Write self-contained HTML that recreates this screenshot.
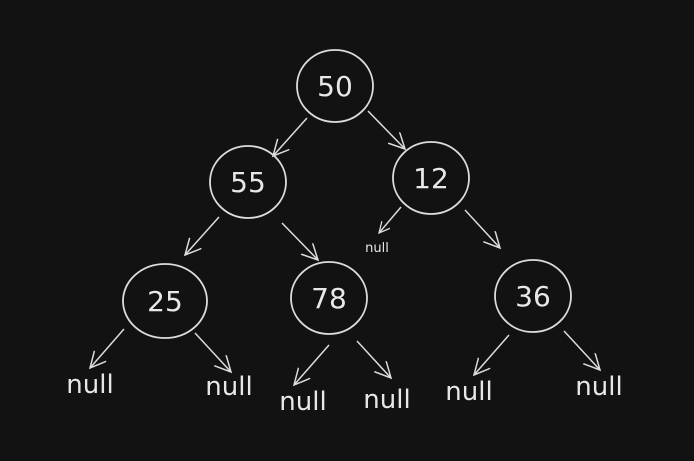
<!DOCTYPE html>
<html><head><meta charset="utf-8"><style>
html,body{margin:0;padding:0;background:#121212;}
svg{display:block}
text{font-family:"DejaVu Sans","Liberation Sans",sans-serif;fill:#e8e8e8;}
</style></head><body>
<svg width="694" height="461" viewBox="0 0 694 461" xmlns="http://www.w3.org/2000/svg">
<rect width="694" height="461" fill="#121212"/>
<defs>
<marker id="a" markerWidth="22" markerHeight="22" refX="16" refY="8" orient="auto" markerUnits="userSpaceOnUse">
<path d="M0,0 L16,8 L0,16" fill="none" stroke="#dcdcdc" stroke-width="1.5"/>
</marker>
<marker id="s" markerWidth="16" markerHeight="16" refX="11" refY="5.5" orient="auto" markerUnits="userSpaceOnUse">
<path d="M0,0 L11,5.5 L0,11" fill="none" stroke="#dcdcdc" stroke-width="1.3"/>
</marker>
</defs>
<g fill="none" stroke="#dcdcdc" stroke-width="1.8">
<ellipse cx="335" cy="86" rx="38" ry="36"/>
<ellipse cx="248" cy="182" rx="38" ry="36"/>
<ellipse cx="431" cy="178" rx="38" ry="36"/>
<ellipse cx="165" cy="301" rx="42" ry="37"/>
<ellipse cx="329" cy="298" rx="38" ry="36"/>
<ellipse cx="533" cy="296" rx="38" ry="36"/>
</g>
<g stroke="#dcdcdc" stroke-width="1.5" fill="none">
<line x1="307" y1="118" x2="273" y2="156" marker-end="url(#a)"/>
<line x1="368" y1="111" x2="405" y2="149" marker-end="url(#a)"/>
<line x1="219" y1="217" x2="185" y2="255" marker-end="url(#a)"/>
<line x1="282" y1="223" x2="318" y2="260" marker-end="url(#a)"/>
<line x1="401" y1="207" x2="379" y2="233" marker-end="url(#s)"/>
<line x1="465" y1="210" x2="500" y2="248" marker-end="url(#a)"/>
<line x1="124" y1="329" x2="90" y2="368" marker-end="url(#a)"/>
<line x1="195" y1="333" x2="231" y2="372" marker-end="url(#a)"/>
<line x1="329" y1="345" x2="294" y2="385" marker-end="url(#a)"/>
<line x1="357" y1="341" x2="391" y2="378" marker-end="url(#a)"/>
<line x1="509" y1="335" x2="474" y2="375" marker-end="url(#a)"/>
<line x1="564" y1="331" x2="600" y2="370" marker-end="url(#a)"/>
</g>
<g font-size="28" text-anchor="middle">
<text x="335" y="96">50</text>
<text x="248" y="192">55</text>
<text x="431" y="188">12</text>
<text x="165" y="311">25</text>
<text x="329" y="308">78</text>
<text x="533" y="306">36</text>
</g>
<g font-size="26" text-anchor="middle">
<text x="90" y="393">null</text>
<text x="229" y="395">null</text>
<text x="303" y="410">null</text>
<text x="387" y="408">null</text>
<text x="469" y="400">null</text>
<text x="599" y="395">null</text>
</g>
<text x="377" y="252" font-size="13" text-anchor="middle">null</text>
</svg>
</body></html>
